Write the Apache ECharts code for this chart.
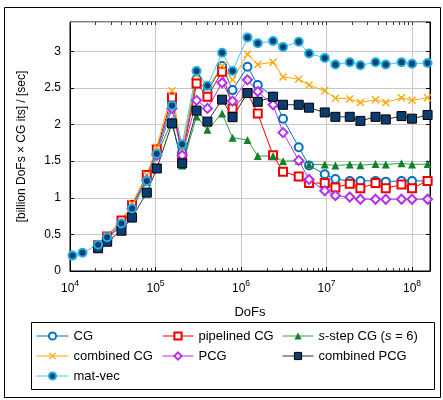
<!DOCTYPE html>
<html><head><meta charset="utf-8">
<script src="https://cdn.jsdelivr.net/npm/echarts@6/dist/echarts.min.js"></script>
<style>html,body{margin:0;padding:0;background:#fff}#c{width:443px;height:400px}</style>
</head><body><div id="c"></div>
<script>
// DoFs (x positions)
const DOFS = [10700, 14000, 21300, 27200, 40000, 53200, 79100, 103500, 156000, 205000,
  302000, 405000, 601000, 796000, 1190000, 1570000, 2370000, 3100000, 4730000, 6250000,
  9530000, 12700000, 18700000, 24900000, 37400000, 49300000, 75300000, 100000000, 152000000];
// mat-vec covers all DoFs; the other series start at the third DoF value
const MATVEC = [0.21, 0.25, 0.36, 0.46, 0.65, 0.855, 1.23, 1.60, 2.26, 1.73, 2.73, 2.53, 2.98, 2.73, 3.19, 3.11, 3.14, 3.06, 3.13, 2.97, 2.91, 2.82, 2.85, 2.81, 2.85, 2.82, 2.85, 2.83, 2.84];
const CG = [0.34, 0.46, 0.63, 0.87, 1.27, 1.62, 2.30, 1.62, 2.62, 2.45, 2.80, 2.47, 2.79, 2.54, 2.38, 2.08, 1.69, 1.44, 1.32, 1.255, 1.23, 1.23, 1.23, 1.22, 1.23, 1.23, 1.23];
const PIPE = [0.35, 0.47, 0.69, 0.90, 1.31, 1.66, 2.37, 1.55, 2.56, 2.38, 2.72, 2.22, 2.43, 2.15, 1.58, 1.355, 1.29, 1.20, 1.20, 1.14, 1.19, 1.13, 1.20, 1.13, 1.18, 1.13, 1.23];
const SSTEP = [0.33, 0.45, 0.62, 0.85, 1.22, 1.58, 2.05, 1.44, 2.11, 1.93, 2.15, 1.82, 1.79, 1.57, 1.57, 1.50, 1.505, 1.455, 1.455, 1.44, 1.455, 1.445, 1.46, 1.455, 1.47, 1.455, 1.46];
const COMBCG = [0.35, 0.48, 0.66, 0.92, 1.31, 1.69, 2.46, 1.65, 2.68, 2.50, 2.80, 2.61, 2.96, 2.82, 2.85, 2.65, 2.62, 2.54, 2.46, 2.36, 2.35, 2.30, 2.34, 2.30, 2.365, 2.33, 2.365];
const PCG = [0.33, 0.45, 0.62, 0.85, 1.24, 1.58, 2.22, 1.58, 2.33, 2.22, 2.57, 2.32, 2.61, 2.45, 2.27, 1.89, 1.51, 1.25, 1.095, 1.03, 1.01, 0.98, 0.98, 0.98, 0.98, 0.98, 0.98];
const COMBPCG = [0.31, 0.40, 0.55, 0.73, 1.07, 1.40, 2.015, 1.47, 2.19, 2.04, 2.34, 2.10, 2.43, 2.31, 2.38, 2.27, 2.27, 2.23, 2.165, 2.105, 2.105, 2.05, 2.105, 2.07, 2.115, 2.08, 2.13];
const X_MAJOR = [1e4, 1e5, 1e6, 1e7, 1e8];
const Y_TICKS = ['0', '0.5', '1', '1.5', '2', '2.5', '3'];
const X_MINOR = [];
for (let e = 4; e <= 8; e++) for (let m = 2; m <= 9; m++) { const v = m * Math.pow(10, e); if (v < 1.6e8) X_MINOR.push(v); }

const pairs = (vals, off) => vals.map((v, i) => [DOFS[i + off], v]);
const FONT = 'Liberation Sans, Arial, sans-serif';
const XMIN = 1e4, XMAX = Math.pow(10, 8.21);
const xSym = 'path://M0,1.2 L1.2,0 L5,3.8 L8.8,0 L10,1.2 L6.2,5 L10,8.8 L8.8,10 L5,6.2 L1.2,10 L0,8.8 L3.8,5 Z';

function line(name, data, color, sym, size, extra) {
  return Object.assign({
    name, type: 'line', data, symbol: sym, symbolSize: size,
    lineStyle: { color, width: 1 }, itemStyle: { color, borderWidth: 1 },
    emphasis: { disabled: true }
  }, extra || {});
}

const chart = echarts.init(document.getElementById('c'), null, { renderer: 'canvas' });
const legendCommon = {
  orient: 'vertical', padding: 0, itemGap: 6, itemHeight: 9,
  lineStyle: { width: 1 }, itemStyle: { borderWidth: 1 },
  textStyle: { fontFamily: FONT, fontSize: 13, color: '#000', lineHeight: 14,
    rich: { i: { fontStyle: 'italic', fontFamily: FONT, fontSize: 13 } } },
  selectedMode: false,
  formatter: n => n.startsWith('s-step') ? '{i|s}-step CG ({i|s} = 6)' : n
};
chart.setOption({
  animation: false,
  backgroundColor: '#fff',
  grid: { left: 70, right: 13, top: 22, bottom: 129, show: true, borderColor: '#000', borderWidth: 1, backgroundColor: 'transparent' },
  xAxis: [
    { type: 'log', logBase: 10, min: XMIN, max: XMAX,
      name: 'DoFs', nameLocation: 'middle', nameGap: 35,
      nameTextStyle: { fontFamily: FONT, fontSize: 13, color: '#000' },
      axisLine: { lineStyle: { color: '#000' } },
      axisTick: { inside: true, length: 4, lineStyle: { color: '#000' }, customValues: X_MAJOR },
      axisLabel: { margin: 8, customValues: X_MAJOR, color: '#000', fontFamily: FONT,
        formatter: v => '{b|10}{s|' + Math.round(Math.log10(v)) + '}',
        rich: { b: { fontSize: 12, fontFamily: FONT, verticalAlign: 'bottom' },
                s: { fontSize: 8.5, fontFamily: FONT, verticalAlign: 'bottom', padding: [0, 0, 7, 0] } } },
      splitLine: { show: true, lineStyle: { color: '#c8c8c8' } }, minorTick: { show: false } },
    { type: 'log', logBase: 10, min: XMIN, max: XMAX, position: 'bottom',
      axisLine: { show: false }, axisLabel: { show: false }, splitLine: { show: false },
      axisTick: { inside: true, length: 3, lineStyle: { color: '#333' }, customValues: X_MINOR } },
    { type: 'log', logBase: 10, min: XMIN, max: XMAX, position: 'top',
      axisLine: { show: false }, axisLabel: { show: false }, splitLine: { show: false },
      axisTick: { inside: true, length: 3, lineStyle: { color: '#333' }, customValues: X_MINOR.concat(X_MAJOR) } }
  ],
  yAxis: [
    { type: 'value', min: 0, max: 3.4, interval: 0.5,
      name: '[billion DoFs \u00d7 CG its] / [sec]', nameLocation: 'middle', nameGap: 42, nameRotate: 90,
      nameTextStyle: { fontFamily: FONT, fontSize: 12, color: '#000' },
      axisLine: { show: true, lineStyle: { color: '#000' } },
      axisTick: { inside: true, length: 4, lineStyle: { color: '#000' } },
      axisLabel: { margin: 9, color: '#000', fontFamily: FONT, fontSize: 12, showMaxLabel: false,
        formatter: v => { const s = String(+v.toFixed(1)); return Y_TICKS.includes(s) ? s : ''; } },
      splitLine: { show: true, lineStyle: { color: '#c8c8c8' } } },
    { type: 'value', min: 0, max: 3.4, interval: 0.5, position: 'right',
      axisLine: { show: true, lineStyle: { color: '#000' } },
      axisTick: { inside: true, length: 4, lineStyle: { color: '#000' } },
      axisLabel: { show: false }, splitLine: { show: false } }
  ],
  legend: [
    Object.assign({ left: 36, top: 329, itemWidth: 32,
      data: ['CG', 'combined CG', { name: 'mat-vec', itemStyle: { borderWidth: 2, borderColor: '#1FB0E6', color: '#123F6E' } }] }, legendCommon),
    Object.assign({ left: 162, top: 329, itemWidth: 31, data: ['pipelined CG', 'PCG'] }, legendCommon),
    Object.assign({ left: 282, top: 329, itemWidth: 31, data: ['s-step CG (s = 6)', 'combined PCG'] }, legendCommon)
  ],
  graphic: [
    { type: 'rect', shape: { x: 4.5, y: 7.5, width: 436, height: 390 }, style: { fill: 'none', stroke: '#000', lineWidth: 1 }, silent: true, z: -1 },
    { type: 'rect', shape: { x: 31.5, y: 322.5, width: 403, height: 67 }, style: { fill: 'none', stroke: '#000', lineWidth: 1 }, silent: true }
  ],
  series: [
    line('CG', pairs(CG, 2), '#0072BD', 'emptyCircle', 8),
    line('pipelined CG', pairs(PIPE, 2), '#F00000', 'emptyRect', 8),
    line('s-step CG (s = 6)', pairs(SSTEP, 2), '#2CA042', 'triangle', 8, { itemStyle: { color: '#13802C', borderWidth: 0 } }),
    line('combined CG', pairs(COMBCG, 2), '#FFA500', xSym, 8),
    line('PCG', pairs(PCG, 2), '#B530EE', 'emptyDiamond', 9),
    line('combined PCG', pairs(COMBPCG, 2), '#333333', 'rect', 9, { itemStyle: { color: '#0B3D72', borderColor: '#000', borderWidth: 1 } }),
    line('mat-vec', pairs(MATVEC, 0), '#1FB0E6', 'circle', 8, {
      lineStyle: { color: '#4CC4EE', width: 1 },
      itemStyle: { color: '#123F6E', borderColor: '#1FB0E6', borderWidth: 2 } })
  ]
});
</script></body></html>
